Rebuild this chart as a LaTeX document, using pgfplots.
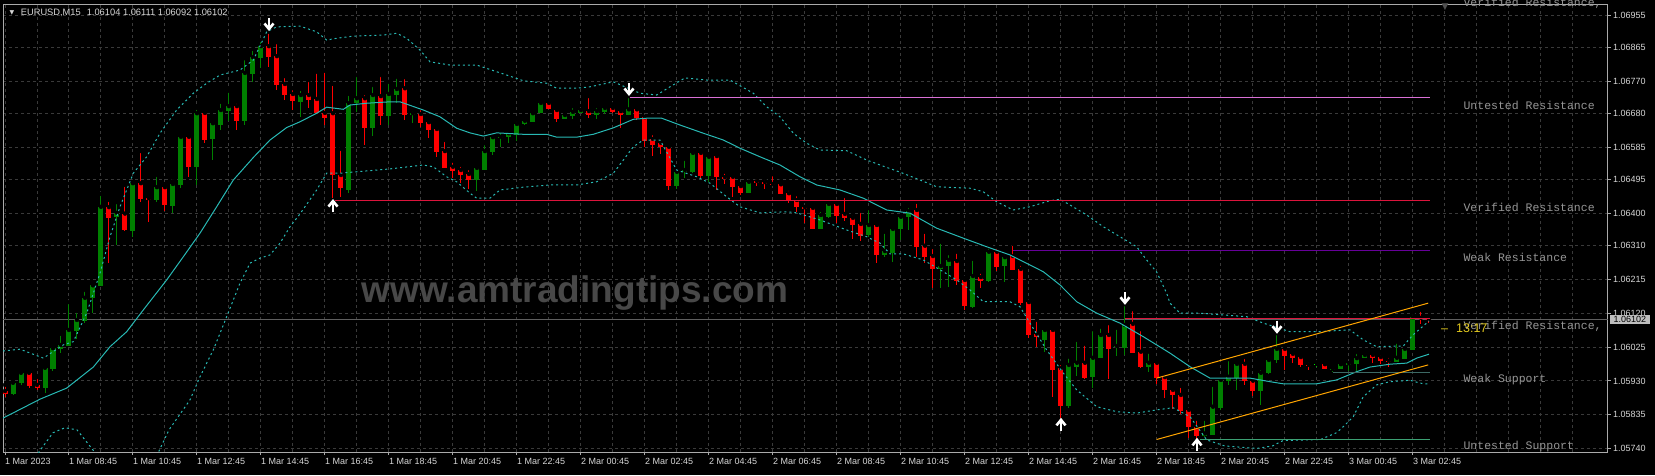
\documentclass[border=0pt]{standalone}
\usepackage{pgfplots}
\pgfplotsset{compat=1.18}
\usepackage{pgfplotstable}
\usepackage{fontspec}
\setmainfont{Liberation Sans}
\newfontfamily\monofont{Liberation Mono}
\newfontfamily\symfont{DejaVu Sans}

\definecolor{bull}{RGB}{0,128,0}
\definecolor{bear}{RGB}{255,0,0}
\definecolor{limec}{RGB}{0,255,0}
\definecolor{gridc}{RGB}{58,58,58}
\definecolor{framec}{RGB}{170,170,170}
\definecolor{tickc}{RGB}{215,215,215}
\definecolor{bandc}{RGB}{40,185,180}
\definecolor{lvlc}{RGB}{150,150,150}
\definecolor{orchidc}{RGB}{218,112,214}
\definecolor{crimsonc}{RGB}{220,20,60}
\definecolor{purplec}{RGB}{102,0,153}
\definecolor{wsupc}{RGB}{60,105,100}
\definecolor{usupc}{RGB}{60,160,115}
\definecolor{chanc}{RGB}{255,165,0}
\definecolor{bidc}{RGB}{95,95,95}
\definecolor{wmc}{RGB}{72,72,72}
\definecolor{timec}{RGB}{225,200,30}
\definecolor{boxc}{RGB}{190,190,190}

\pgfdeclareplotmark{arrdown}{%
  \pgfpathmoveto{\pgfqpoint{0pt}{6pt}}%
  \pgfpathlineto{\pgfqpoint{0pt}{-4pt}}%
  \pgfusepathqstroke
  \pgfpathmoveto{\pgfqpoint{-4.5pt}{0.5pt}}%
  \pgfpathlineto{\pgfqpoint{0pt}{-5pt}}%
  \pgfpathlineto{\pgfqpoint{4.5pt}{0.5pt}}%
  \pgfusepathqstroke
}
\pgfdeclareplotmark{arrup}{%
  \pgfpathmoveto{\pgfqpoint{0pt}{-6pt}}%
  \pgfpathlineto{\pgfqpoint{0pt}{4pt}}%
  \pgfusepathqstroke
  \pgfpathmoveto{\pgfqpoint{-4.5pt}{-0.5pt}}%
  \pgfpathlineto{\pgfqpoint{0pt}{5pt}}%
  \pgfpathlineto{\pgfqpoint{4.5pt}{-0.5pt}}%
  \pgfusepathqstroke
}

% bullish candles: i open high low close
\pgfplotstableread{
i o h l c
1 1.05894 1.05930 1.05891 1.05925
2 1.05925 1.05956 1.05919 1.05953
5 1.05911 1.05970 1.05896 1.05967
6 1.05964 1.06031 1.05959 1.06022
7 1.06019 1.06062 1.06009 1.06031
8 1.06029 1.06151 1.06029 1.06073
9 1.06071 1.06126 1.06047 1.06101
10 1.06098 1.06185 1.06093 1.06163
11 1.06163 1.06198 1.06120 1.06198
12 1.06196 1.06454 1.06196 1.06418
14 1.06390 1.06431 1.06311 1.06401
16 1.06350 1.06488 1.06334 1.06484
19 1.06437 1.06507 1.06432 1.06473
21 1.06420 1.06490 1.06400 1.06482
22 1.06479 1.06622 1.06471 1.06614
24 1.06530 1.06695 1.06479 1.06680
26 1.06608 1.06652 1.06549 1.06652
27 1.06647 1.06712 1.06633 1.06689
28 1.06686 1.06743 1.06659 1.06700
30 1.06658 1.06834 1.06647 1.06793
31 1.06790 1.06860 1.06768 1.06837
32 1.06835 1.06885 1.06806 1.06868
37 1.06712 1.06748 1.06670 1.06731
43 1.06465 1.06734 1.06456 1.06708
44 1.06708 1.06787 1.06684 1.06722
46 1.06639 1.06759 1.06616 1.06731
48 1.06672 1.06768 1.06647 1.06734
49 1.06731 1.06782 1.06708 1.06748
51 1.06675 1.06691 1.06652 1.06680
59 1.06493 1.06532 1.06463 1.06527
60 1.06521 1.06596 1.06521 1.06574
61 1.06572 1.06619 1.06563 1.06613
62 1.06610 1.06630 1.06586 1.06614
63 1.06613 1.06628 1.06596 1.06624
64 1.06619 1.06661 1.06603 1.06650
65 1.06649 1.06661 1.06647 1.06659
66 1.06656 1.06686 1.06656 1.06680
67 1.06680 1.06715 1.06680 1.06709
70 1.06664 1.06683 1.06664 1.06675
71 1.06673 1.06700 1.06664 1.06684
72 1.06681 1.06689 1.06681 1.06689
74 1.06675 1.06700 1.06663 1.06686
75 1.06684 1.06695 1.06677 1.06695
78 1.06675 1.06728 1.06675 1.06691
84 1.06476 1.06526 1.06467 1.06516
85 1.06516 1.06552 1.06499 1.06521
86 1.06516 1.06572 1.06513 1.06569
88 1.06504 1.06558 1.06488 1.06558
93 1.06456 1.06488 1.06456 1.06488
102 1.06357 1.06409 1.06355 1.06395
103 1.06390 1.06432 1.06386 1.06426
108 1.06339 1.06414 1.06333 1.06367
110 1.06283 1.06348 1.06278 1.06294
111 1.06288 1.06359 1.06264 1.06356
112 1.06356 1.06390 1.06325 1.06390
113 1.06389 1.06420 1.06353 1.06406
117 1.06243 1.06320 1.06191 1.06252
118 1.06252 1.06288 1.06194 1.06269
121 1.06138 1.06272 1.06135 1.06224
123 1.06211 1.06306 1.06208 1.06292
125 1.06252 1.06289 1.06208 1.06277
130 1.06045 1.06082 1.06012 1.06073
133 1.05860 1.05998 1.05854 1.05975
134 1.05970 1.06045 1.05944 1.05981
136 1.05942 1.06075 1.05911 1.05995
137 1.05995 1.06082 1.05994 1.06059
139 1.06025 1.06079 1.06000 1.06028
140 1.06023 1.06145 1.06003 1.06087
143 1.05970 1.06012 1.05956 1.05981
150 1.05777 1.05824 1.05773 1.05783
151 1.05779 1.05919 1.05779 1.05858
152 1.05855 1.05941 1.05849 1.05933
153 1.05931 1.05991 1.05919 1.05942
154 1.05938 1.05984 1.05905 1.05978
157 1.05903 1.05966 1.05863 1.05953
158 1.05953 1.06000 1.05950 1.05989
159 1.05989 1.06064 1.05981 1.06020
166 1.05962 1.05964 1.05956 1.05964
167 1.05963 1.05977 1.05963 1.05977
168 1.05976 1.05980 1.05959 1.05980
169 1.05977 1.06011 1.05958 1.05994
170 1.05995 1.06008 1.05994 1.06003
174 1.05984 1.06040 1.05984 1.05995
175 1.05992 1.06025 1.05991 1.06020
176 1.06017 1.06121 1.06017 1.06109
}\bulltab

% bearish candles: i open high low close
\pgfplotstableread{
i o h l c
0 1.05902 1.05919 1.05885 1.05894
3 1.05953 1.05955 1.05911 1.05916
4 1.05919 1.05941 1.05905 1.05911
13 1.06417 1.06437 1.06260 1.06387
15 1.06399 1.06479 1.06350 1.06353
17 1.06484 1.06574 1.06432 1.06440
18 1.06442 1.06451 1.06376 1.06437
20 1.06473 1.06479 1.06406 1.06423
23 1.06614 1.06624 1.06502 1.06530
25 1.06681 1.06684 1.06597 1.06605
29 1.06700 1.06712 1.06633 1.06658
33 1.06868 1.06908 1.06810 1.06838
34 1.06840 1.06879 1.06745 1.06759
35 1.06762 1.06784 1.06717 1.06731
36 1.06734 1.06750 1.06689 1.06714
38 1.06731 1.06773 1.06694 1.06717
39 1.06720 1.06796 1.06678 1.06680
40 1.06681 1.06799 1.06647 1.06667
41 1.06680 1.06762 1.06442 1.06507
42 1.06507 1.06580 1.06446 1.06471
45 1.06722 1.06736 1.06591 1.06639
47 1.06728 1.06787 1.06647 1.06672
50 1.06750 1.06781 1.06661 1.06675
52 1.06678 1.06694 1.06642 1.06653
53 1.06655 1.06655 1.06610 1.06633
54 1.06636 1.06638 1.06558 1.06572
55 1.06574 1.06605 1.06526 1.06527
56 1.06530 1.06547 1.06499 1.06519
57 1.06521 1.06535 1.06484 1.06507
58 1.06510 1.06526 1.06467 1.06493
68 1.06709 1.06715 1.06692 1.06692
69 1.06689 1.06689 1.06656 1.06664
73 1.06686 1.06728 1.06666 1.06675
76 1.06695 1.06705 1.06680 1.06684
77 1.06686 1.06686 1.06638 1.06675
79 1.06691 1.06698 1.06661 1.06667
80 1.06669 1.06670 1.06586 1.06602
81 1.06608 1.06624 1.06560 1.06591
82 1.06597 1.06607 1.06566 1.06586
83 1.06586 1.06596 1.06465 1.06476
87 1.06569 1.06569 1.06498 1.06504
89 1.06560 1.06560 1.06465 1.06502
90 1.06501 1.06516 1.06481 1.06495
91 1.06502 1.06504 1.06446 1.06474
92 1.06476 1.06476 1.06451 1.06457
94 1.06490 1.06501 1.06476 1.06485
95 1.06487 1.06498 1.06469 1.06483
96 1.06482 1.06509 1.06479 1.06480
97 1.06481 1.06490 1.06455 1.06455
98 1.06456 1.06468 1.06429 1.06437
99 1.06437 1.06453 1.06404 1.06417
100 1.06417 1.06417 1.06373 1.06411
101 1.06415 1.06420 1.06355 1.06355
104 1.06426 1.06432 1.06373 1.06393
105 1.06398 1.06448 1.06379 1.06386
106 1.06387 1.06398 1.06327 1.06367
107 1.06370 1.06406 1.06323 1.06337
109 1.06367 1.06375 1.06261 1.06283
114 1.06409 1.06432 1.06278 1.06306
115 1.06309 1.06348 1.06260 1.06278
116 1.06280 1.06305 1.06191 1.06243
119 1.06266 1.06292 1.06199 1.06211
120 1.06213 1.06219 1.06129 1.06140
122 1.06221 1.06236 1.06191 1.06211
124 1.06292 1.06306 1.06239 1.06250
126 1.06280 1.06314 1.06241 1.06241
127 1.06244 1.06258 1.06143 1.06148
128 1.06151 1.06152 1.06050 1.06059
129 1.06062 1.06101 1.06026 1.06053
131 1.06073 1.06073 1.05886 1.05961
132 1.05966 1.05980 1.05826 1.05861
135 1.05981 1.06034 1.05935 1.05939
138 1.06059 1.06092 1.05936 1.06020
141 1.06090 1.06131 1.06009 1.06009
142 1.06012 1.06075 1.05966 1.05970
144 1.05981 1.05989 1.05922 1.05939
145 1.05941 1.05953 1.05883 1.05906
146 1.05905 1.05913 1.05851 1.05891
147 1.05891 1.05916 1.05838 1.05847
148 1.05849 1.05849 1.05770 1.05801
149 1.05801 1.05824 1.05765 1.05777
155 1.05978 1.05997 1.05919 1.05931
156 1.05931 1.05941 1.05888 1.05903
160 1.06020 1.06028 1.05961 1.06001
161 1.06006 1.06006 1.05981 1.05995
162 1.05997 1.05997 1.05970 1.05975
163 1.05975 1.05986 1.05961 1.05973
165 1.05977 1.05980 1.05963 1.05963
171 1.06003 1.06008 1.05981 1.05995
172 1.05997 1.06008 1.05978 1.05986
173 1.05987 1.06000 1.05970 1.05985
177 1.06107 1.06129 1.06090 1.06104
178 1.06104 1.06111 1.06092 1.06102
}\beartab

\pgfplotstableread{
i o h l c
164 1.05975 1.05983 1.05969 1.05977
}\dojitab

% moving average (solid)
\pgfplotstableread{
i p
-0.25 1.05826
4.375 1.05879
7.71 1.05910
11.04 1.05969
13.125 1.06026
15.21 1.06068
17.29 1.06129
20.21 1.06213
22.29 1.06278
24.375 1.06344
26.46 1.06418
28.54 1.06493
31.04 1.06556
33.125 1.06605
35.21 1.06640
36.875 1.06656
38.96 1.06680
40.21 1.06697
42.29 1.06691
43.125 1.06703
45.21 1.06708
48.125 1.06712
49.375 1.06712
52.29 1.06689
54.375 1.06670
56.46 1.06638
58.125 1.06625
59.79 1.06616
61.46 1.06625
64.79 1.06621
67.71 1.06621
68.96 1.06613
71.46 1.06613
73.54 1.06621
76.04 1.06639
78.54 1.06663
80.21 1.06666
82.09 1.06666
84.375 1.06647
87.29 1.06624
89.79 1.06605
91.875 1.06582
94.375 1.06558
96.875 1.06535
99.375 1.06502
101.46 1.06479
104.375 1.06465
107.29 1.06442
110.21 1.06409
113.125 1.06400
116.46 1.06358
119.79 1.06330
122.71 1.06306
125.625 1.06283
129.79 1.06236
131.875 1.06199
133.96 1.06152
136.46 1.06120
139.375 1.06092
142.29 1.06054
145.625 1.06008
148.125 1.05970
150.625 1.05938
155.625 1.05938
158.125 1.05928
159.79 1.05922
163.96 1.05922
166.46 1.05933
168.96 1.05956
170.625 1.05969
173.125 1.05977
175.21 1.05980
176.46 1.05994
178 1.06005
}\matab

% upper band (dashed)
\pgfplotstableread{
i p
-0.25 1.06014
1.875 1.06019
4.79 1.05994
7.29 1.06031
8.54 1.06040
10.21 1.06120
11.875 1.06232
13.125 1.06334
14.375 1.06418
16.04 1.06512
17.71 1.06558
19.375 1.06624
21.46 1.06689
23.54 1.06736
25.21 1.06764
26.875 1.06787
29.375 1.06801
31.04 1.06829
32.71 1.06908
33.96 1.06922
36.875 1.06924
38.96 1.06908
40.21 1.06885
41.46 1.06890
43.54 1.06896
47.29 1.06899
48.96 1.06904
50.21 1.06890
51.875 1.06857
53.125 1.06824
55.625 1.06815
58.96 1.06815
62.71 1.06787
64.79 1.06771
67.71 1.06764
68.96 1.06750
71.46 1.06750
73.125 1.06754
76.04 1.06768
79.375 1.06736
81.46 1.06731
83.125 1.06754
85 1.06779
87.71 1.06773
90.625 1.06773
93.54 1.06736
95.21 1.06698
96.875 1.06670
98.54 1.06624
100.21 1.06596
101.875 1.06577
105.21 1.06575
107.71 1.06549
109.375 1.06535
111.875 1.06515
114.375 1.06493
116.46 1.06474
120.625 1.06470
122.29 1.06460
123.96 1.06432
126.04 1.06409
128.125 1.06418
130.625 1.06435
131.875 1.06439
133.125 1.06423
135.21 1.06395
137.29 1.06362
139.375 1.06334
141.46 1.06306
142.71 1.06269
143.96 1.06235
145.21 1.06176
145.625 1.06148
146.875 1.06120
149.375 1.06120
155.21 1.06110
157.29 1.06092
160.625 1.06068
163.96 1.06068
168.125 1.06073
169.79 1.06045
171.46 1.06026
174.79 1.06028
176 1.06059
178 1.06098
}\uptab

% lower band (dashed)
\pgfplotstableread{
i p
-0.25 1.05681
3.625 1.05712
6 1.05785
7.5 1.05799
9 1.05793
11.875 1.05712
14.375 1.05639
16.875 1.05653
18.5 1.05698
20.5 1.05793
23.125 1.05877
24.375 1.05942
26.04 1.06017
27.71 1.06110
29.375 1.06204
30.625 1.06260
31.875 1.06274
33.125 1.06283
34.375 1.06316
35.625 1.06362
36.875 1.06398
38.96 1.06465
40.21 1.06512
41.875 1.06512
43.96 1.06516
48.125 1.06524
52.29 1.06535
53.54 1.06530
55.21 1.06502
56.46 1.06488
58.125 1.06456
58.96 1.06442
60.625 1.06442
61.875 1.06465
64.79 1.06473
68.125 1.06479
71.46 1.06479
73.96 1.06488
76.04 1.06512
77.29 1.06549
78.54 1.06586
79.79 1.06605
81.875 1.06605
83.96 1.06521
86.46 1.06502
88.125 1.06484
90.21 1.06446
91.875 1.06418
94.375 1.06401
97.71 1.06404
98.96 1.06401
101.875 1.06381
105.21 1.06353
107.71 1.06334
109.375 1.06316
110.625 1.06286
112.29 1.06286
114.79 1.06269
117.29 1.06236
118.96 1.06213
120.625 1.06185
122.29 1.06152
125.625 1.06152
126.875 1.06138
128.125 1.06092
130.21 1.06017
132.29 1.05952
133.96 1.05905
136.46 1.05858
138.96 1.05844
141.46 1.05840
143.96 1.05849
146 1.05855
148.125 1.05830
150.21 1.05765
152.46 1.05748
156.45 1.05741
158.45 1.05748
159.75 1.05763
164.44 1.05766
166.44 1.05785
167.29 1.05802
168.54 1.05830
169.79 1.05886
171.46 1.05919
173.125 1.05928
175.625 1.05932
176.875 1.05924
178 1.05921
}\lowtab

\begin{document}
\begin{tikzpicture}
\useasboundingbox (-3pt,-23pt) rectangle (1652pt,452pt);
\fill[black] (-3pt,-23pt) rectangle (1652pt,452pt);
\begin{axis}[
  at={(0pt,0pt)}, anchor=south west,
  scale only axis, width=1605pt, height=448pt,
  xmin=-0.25, xmax=200.375, ymin=1.05731, ymax=1.06986,
  clip mode=individual,
  axis line style={draw=framec, line width=1pt},
  xtick={0,8,...,176},
  xticklabels={1 Mar 2023,1 Mar 08:45,1 Mar 10:45,1 Mar 12:45,1 Mar 14:45,1 Mar 16:45,1 Mar 18:45,1 Mar 20:45,1 Mar 22:45,2 Mar 00:45,2 Mar 02:45,2 Mar 04:45,2 Mar 06:45,2 Mar 08:45,2 Mar 10:45,2 Mar 12:45,2 Mar 14:45,2 Mar 16:45,2 Mar 18:45,2 Mar 20:45,2 Mar 22:45,3 Mar 00:45,3 Mar 02:45},
  minor xtick={4,12,...,172,180,184,188,192,196},
  ytick={1.05740,1.05835,1.05930,1.06025,1.06120,1.06215,1.06310,1.06400,1.06495,1.06585,1.06680,1.06770,1.06865,1.06955},
  yticklabels={1.05740,1.05835,1.05930,1.06025,1.06120,1.06215,1.06310,1.06400,1.06495,1.06585,1.06680,1.06770,1.06865,1.06955},
  scaled y ticks=false,
  xtick pos=left, ytick pos=right, xticklabel pos=left, yticklabel pos=right,
  tick align=outside, major tick length=3pt, minor tick length=0pt,
  tick style={draw=framec, line width=1pt},
  xmajorgrids, xminorgrids, ymajorgrids,
  major grid style={draw=gridc, line width=1pt, dash pattern=on 3pt off 3pt},
  minor grid style={draw=gridc, line width=1pt, dash pattern=on 3pt off 3pt},
  tick label style={text=tickc, font=\fontsize{9}{10}\selectfont, inner sep=0pt},
  xticklabel style={anchor=north west, yshift=-3pt},
  yticklabel style={anchor=west, xshift=2pt},
]
% watermark
\node[text=wmc, font=\bfseries\fontsize{37}{40}\selectfont, inner sep=0pt] at (axis cs:71.25,1.06177) {www.amtradingtips.com};

% bid line
\addplot[bidc, line width=1pt] coordinates {(-0.25,1.06102) (200.375,1.06102)};

% candles
\addplot[only marks, mark=none, error bars/.cd, y dir=minus, y explicit, error mark=none,
  error bar style={draw=bull, line width=1pt, solid}]
  table[x=i, y=h, y error minus expr={\thisrow{h}-\thisrow{l}}] {\bulltab};
\addplot[only marks, mark=none, error bars/.cd, y dir=minus, y explicit, error mark=none,
  error bar style={draw=bull, line width=5pt, solid}]
  table[x=i, y=c, y error minus expr={max(\thisrow{c}-\thisrow{o},0.000028)}] {\bulltab};
\addplot[only marks, mark=none, error bars/.cd, y dir=minus, y explicit, error mark=none,
  error bar style={draw=bear, line width=1pt, solid}]
  table[x=i, y=h, y error minus expr={\thisrow{h}-\thisrow{l}}] {\beartab};
\addplot[only marks, mark=none, error bars/.cd, y dir=minus, y explicit, error mark=none,
  error bar style={draw=bear, line width=5pt, solid}]
  table[x=i, y=o, y error minus expr={max(\thisrow{o}-\thisrow{c},0.000028)}] {\beartab};
\addplot[only marks, mark=none, error bars/.cd, y dir=minus, y explicit, error mark=none,
  error bar style={draw=limec, line width=1pt, solid}]
  table[x=i, y=h, y error minus expr={\thisrow{h}-\thisrow{l}}] {\dojitab};
\addplot[only marks, mark=none, error bars/.cd, y dir=minus, y explicit, error mark=none,
  error bar style={draw=limec, line width=5pt, solid}]
  table[x=i, y=c, y error minus expr={max(\thisrow{c}-\thisrow{o},0.000028)}] {\dojitab};

% bands and MA
\addplot[bandc, line width=1pt, dash pattern=on 2pt off 3pt] table[x=i, y=p] {\uptab};
\addplot[bandc, line width=1pt, dash pattern=on 2pt off 3pt] table[x=i, y=p] {\lowtab};
\addplot[bandc, line width=1pt] table[x=i, y=p] {\matab};

% support / resistance levels
\addplot[orchidc, line width=1pt] coordinates {(78.1,1.06725) (178.1,1.06725)};
\addplot[crimsonc, line width=1pt] coordinates {(41.25,1.06435) (178.1,1.06435)};
\addplot[purplec, line width=1pt] coordinates {(126,1.06295) (178.1,1.06295)};
\addplot[crimsonc, line width=1pt] coordinates {(140,1.06106) (178.1,1.06106)};
\addplot[wsupc, line width=1pt] coordinates {(166,1.05955) (178.1,1.05955)};
\addplot[usupc, line width=1pt] coordinates {(149.4,1.05767) (178.1,1.05767)};

% channel
\addplot[chanc, line width=1pt] coordinates {(143.96,1.05938) (177.9,1.06148)};
\addplot[chanc, line width=1pt] coordinates {(143.96,1.05766) (177.9,1.05975)};

% fractal arrows
\addplot[only marks, mark=arrdown, mark options={draw=white, line width=2.6pt, solid}]
  coordinates {(33,1.06930) (78,1.06748) (140,1.06163) (159,1.06082)};
\addplot[only marks, mark=arrup, mark options={draw=white, line width=2.6pt, solid}]
  coordinates {(41,1.06420) (132,1.05807) (149,1.05751)};

% level labels
\begin{scope}[every node/.style={anchor=west, inner sep=0pt, text=lvlc, font=\monofont\fontsize{11.5}{12}\selectfont}]
\node at (axis cs:182.3,1.06989) {Verified Resistance,};
\node at (axis cs:182.3,1.06703) {Untested Resistance};
\node at (axis cs:182.3,1.06415) {Verified Resistance};
\node at (axis cs:182.3,1.06275) {Weak Resistance};
\node at (axis cs:182.3,1.06084) {Verified Resistance,};
\node at (axis cs:182.3,1.05933) {Weak Support};
\node at (axis cs:182.3,1.05746) {Untested Support};
\end{scope}

% timer
\node[anchor=west, inner sep=0pt, text=timec, font=\fontsize{12.5}{13}\selectfont] at (axis cs:179.5,1.06079) {\textendash\hspace{8pt}13:17};

% header
\node[inner sep=0pt, text=tickc, font=\symfont\fontsize{6}{6}\selectfont] at (axis cs:0.875,1.06961) {▼};
\node[anchor=west, inner sep=0pt, text=tickc, font=\fontsize{9.3}{10}\selectfont] at (axis cs:1.96,1.06961) {EURUSD,M15\hspace{6pt}1.06104 1.06111 1.06092 1.06102};
\node[inner sep=0pt, text={rgb,255:red,80;green,80;blue,80}, font=\symfont\fontsize{9}{9}\selectfont] at (axis cs:180,1.06978) {▼};

% current price box
\node[anchor=west, xshift=2pt, fill=boxc, text=black, inner xsep=3.5pt, inner ysep=1.4pt, text height=6.5pt, text depth=0pt, font=\fontsize{9}{10}\selectfont] at (axis cs:200.375,1.06102) {1.06102};
\end{axis}
\end{tikzpicture}
\end{document}
